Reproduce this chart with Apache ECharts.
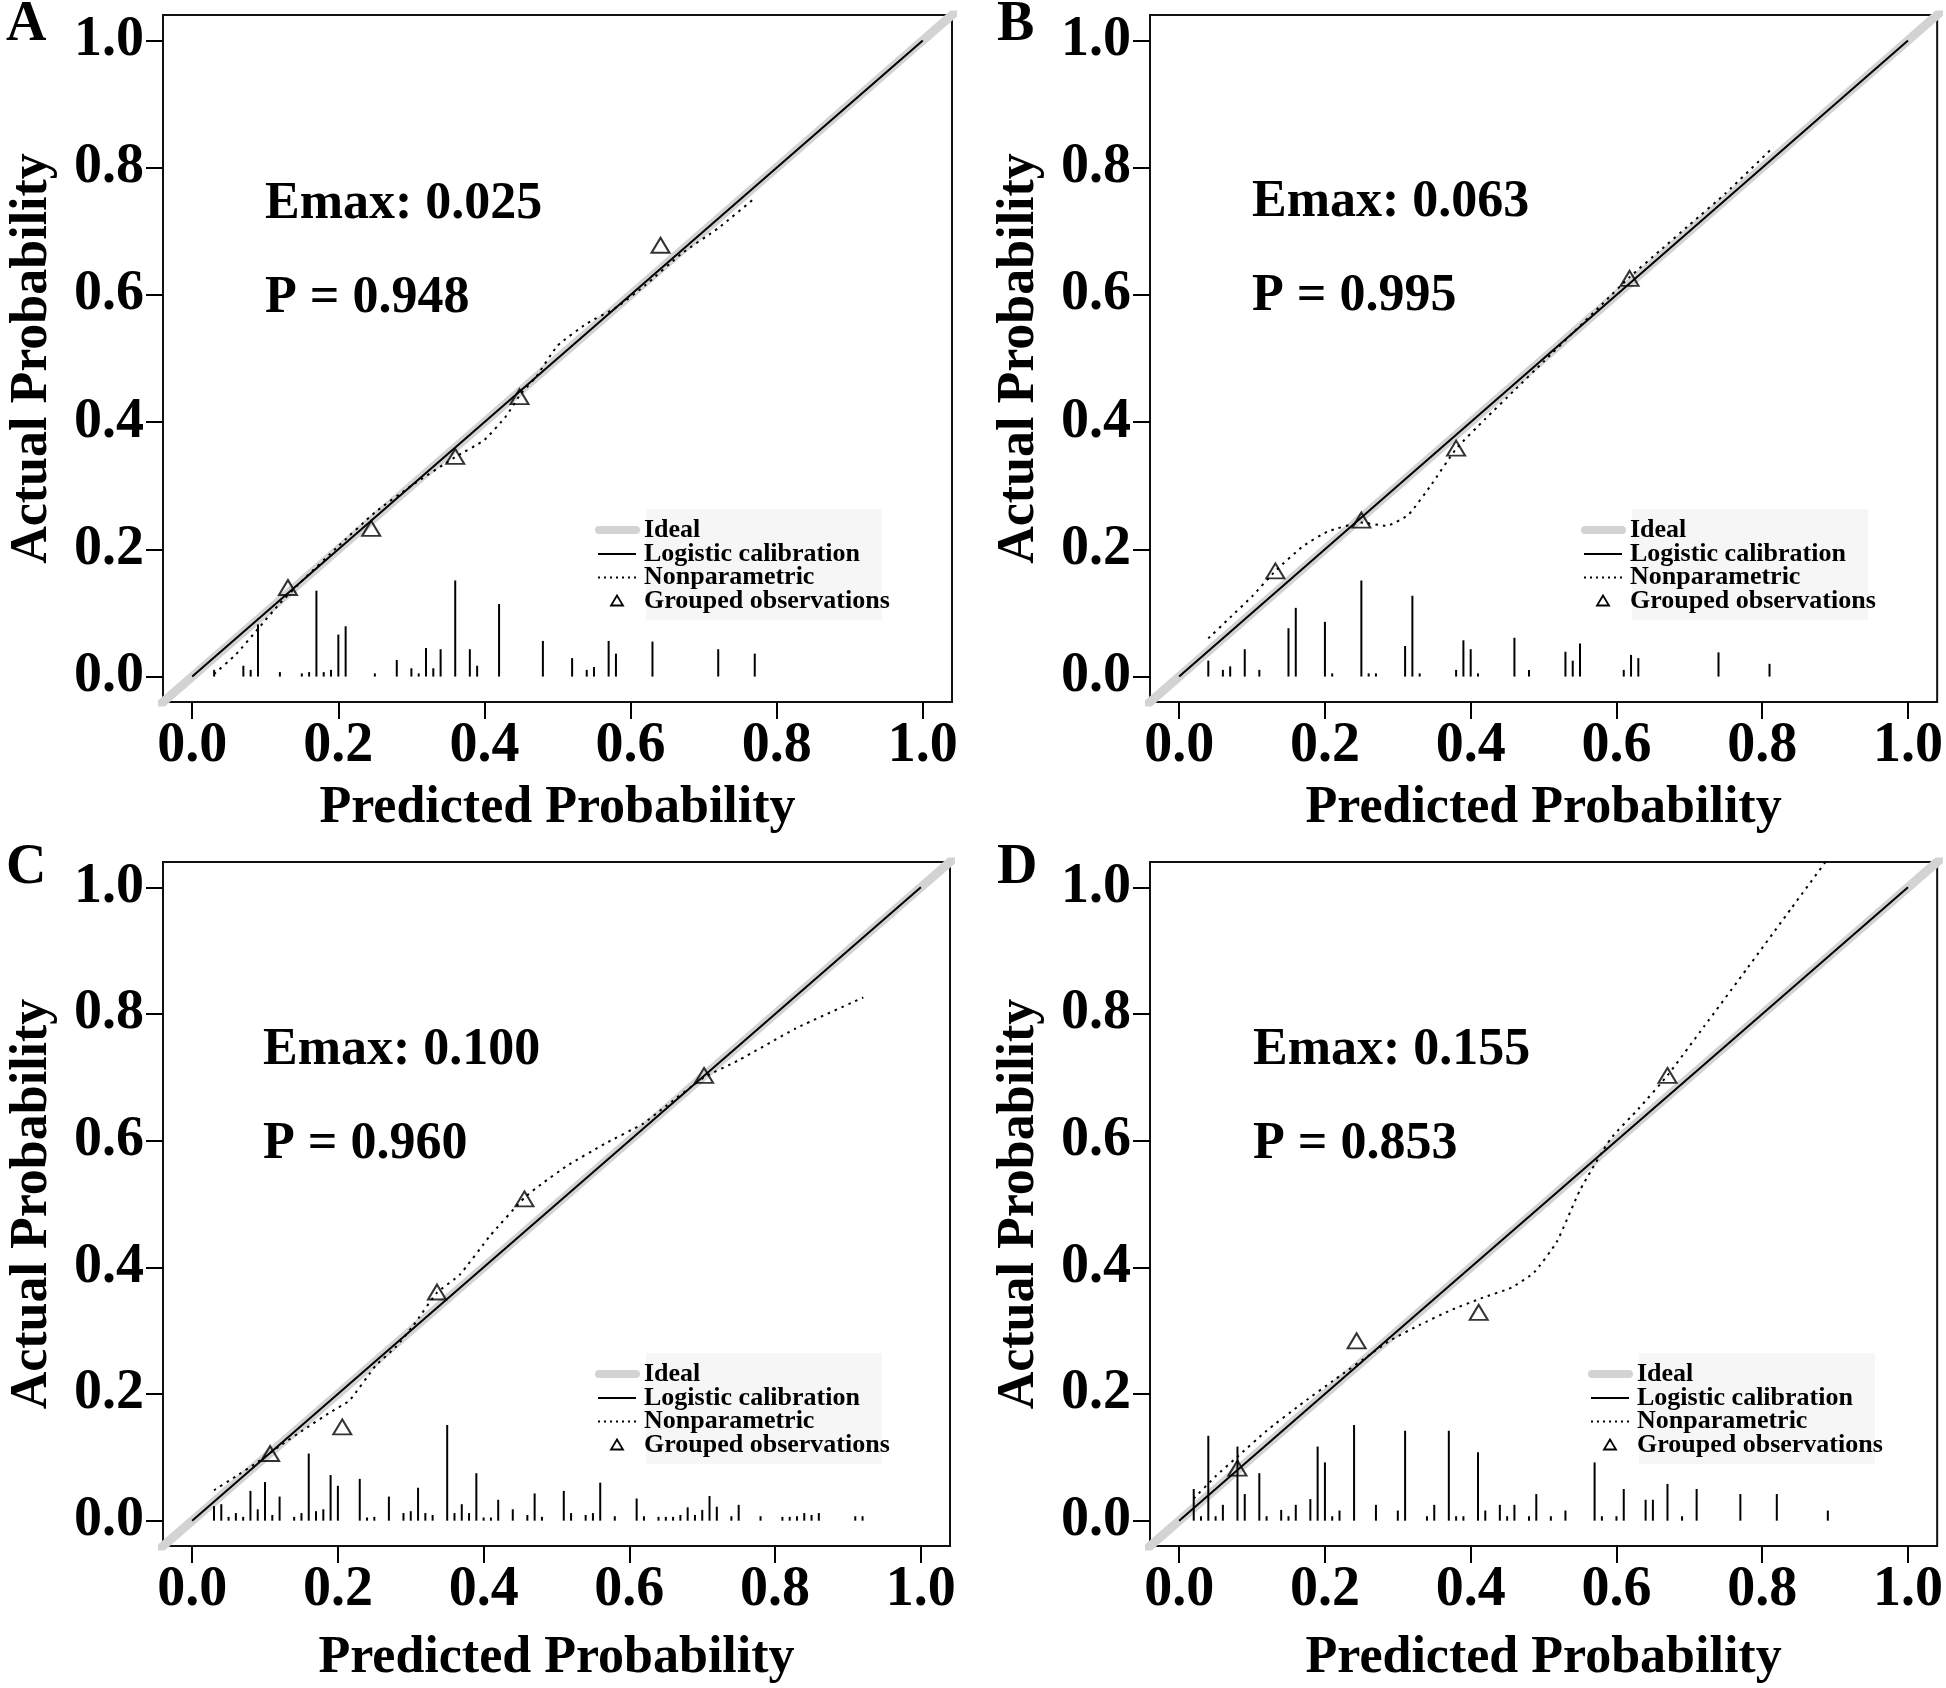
<!DOCTYPE html>
<html>
<head>
<meta charset="utf-8">
<script src="https://cdn.jsdelivr.net/npm/echarts@6/dist/echarts.min.js"></script>
<style>
html,body{margin:0;padding:0;background:#fff;}
#chart{width:1946px;height:1688px;}
</style>
</head>
<body>
<div id="chart"></div>
<script>
// ---------------- DATA ----------------
const axisTicks = [0, 0.2, 0.4, 0.6, 0.8, 1.0];
const panelLetters = ['A', 'B', 'C', 'D'];
const emaxTexts = ['Emax: 0.025', 'Emax: 0.063', 'Emax: 0.100', 'Emax: 0.155'];
const pTexts = ['P = 0.948', 'P = 0.995', 'P = 0.960', 'P = 0.853'];
const legendNames = ['Ideal', 'Logistic calibration', 'Nonparametric', 'Grouped observations'];
const xTitle = 'Predicted Probability';
const yTitle = 'Actual Probability';

const idealLine = [[-0.1, -0.1], [1.1, 1.1]];

// Panel A
const logisticA = [[0, 0], [0.25, 0.25], [0.5, 0.5], [0.75, 0.75], [1, 1]];
const nonparA = [[0.03,0.004],[0.06,0.035],[0.09,0.075],[0.12,0.115],[0.15,0.15],[0.2,0.205],[0.25,0.258],[0.3,0.3],[0.36,0.345],[0.4,0.372],[0.43,0.41],[0.45,0.445],[0.47,0.47],[0.5,0.52],[0.54,0.555],[0.58,0.58],[0.62,0.615],[0.67,0.665],[0.72,0.705],[0.77,0.752]];
const groupedA = [[0.131,0.140],[0.245,0.233],[0.360,0.346],[0.448,0.440],[0.641,0.678]];
const spikeXA = [0.03,0.07,0.08,0.09,0.12,0.15,0.16,0.17,0.18,0.19,0.20,0.21,0.25,0.28,0.30,0.31,0.32,0.33,0.34,0.36,0.38,0.39,0.42,0.48,0.52,0.54,0.55,0.57,0.58,0.63,0.72,0.77];
const spikeHA = [0.0105,0.017,0.0105,0.082,0.007,0.005,0.007,0.135,0.007,0.0105,0.066,0.079,0.005,0.026,0.013,0.005,0.045,0.013,0.043,0.151,0.043,0.017,0.114,0.056,0.029,0.0105,0.015,0.056,0.036,0.055,0.043,0.036];

// Panel B
const logisticB = [[0, 0], [0.25, 0.25], [0.5, 0.5], [0.75, 0.75], [1, 1]];
const nonparB = [[0.04,0.06],[0.07,0.093],[0.1,0.126],[0.132,0.166],[0.17,0.205],[0.204,0.228],[0.25,0.242],[0.285,0.237],[0.315,0.255],[0.345,0.3],[0.38,0.358],[0.42,0.405],[0.46,0.45],[0.5,0.495],[0.54,0.54],[0.58,0.585],[0.618,0.628],[0.66,0.67],[0.7,0.71],[0.75,0.76],[0.815,0.832]];
const groupedB = [[0.132,0.166],[0.250,0.246],[0.380,0.359],[0.618,0.626]];
const spikeXB = [0.04,0.06,0.07,0.09,0.11,0.15,0.16,0.20,0.21,0.25,0.26,0.27,0.31,0.32,0.33,0.38,0.39,0.40,0.41,0.46,0.48,0.53,0.54,0.55,0.61,0.62,0.63,0.74,0.81];
const spikeHB = [0.025,0.0105,0.016,0.043,0.0105,0.076,0.108,0.086,0.005,0.151,0.005,0.005,0.048,0.127,0.005,0.0105,0.057,0.043,0.005,0.061,0.0105,0.039,0.025,0.052,0.0105,0.034,0.029,0.038,0.02];

// Panel C
const logisticC = [[0, 0], [0.25, 0.25], [0.5, 0.5], [0.75, 0.75], [1, 1]];
const nonparC = [[0.03,0.048],[0.06,0.07],[0.088,0.091],[0.12,0.118],[0.155,0.145],[0.188,0.17],[0.216,0.19],[0.252,0.245],[0.28,0.275],[0.304,0.309],[0.336,0.36],[0.367,0.388],[0.409,0.45],[0.456,0.51],[0.48,0.532],[0.514,0.56],[0.566,0.595],[0.619,0.627],[0.645,0.65],[0.7025,0.7],[0.75,0.727],[0.828,0.777],[0.921,0.826]];
const groupedC = [[0.107,0.106],[0.206,0.148],[0.336,0.361],[0.456,0.508],[0.7025,0.703]];
const spikeXC = [0.03,0.04,0.05,0.06,0.07,0.08,0.09,0.10,0.11,0.12,0.14,0.15,0.16,0.17,0.18,0.19,0.20,0.23,0.24,0.25,0.27,0.29,0.30,0.31,0.32,0.33,0.35,0.36,0.37,0.38,0.39,0.40,0.41,0.42,0.44,0.46,0.47,0.48,0.51,0.52,0.54,0.55,0.56,0.58,0.61,0.62,0.64,0.65,0.66,0.67,0.68,0.69,0.70,0.71,0.72,0.74,0.75,0.78,0.81,0.82,0.83,0.84,0.85,0.86,0.91,0.92];
const spikeHC = [0.023,0.026,0.006,0.012,0.006,0.047,0.018,0.061,0.009,0.038,0.006,0.012,0.106,0.015,0.018,0.072,0.055,0.066,0.005,0.006,0.038,0.012,0.015,0.052,0.012,0.009,0.151,0.012,0.026,0.012,0.075,0.005,0.005,0.033,0.018,0.009,0.043,0.006,0.047,0.012,0.009,0.012,0.060,0.007,0.035,0.007,0.006,0.006,0.006,0.009,0.021,0.009,0.017,0.039,0.022,0.007,0.025,0.007,0.006,0.006,0.007,0.012,0.009,0.012,0.007,0.007];

// Panel D
const logisticD = [[0, 0], [0.25, 0.25], [0.5, 0.5], [0.75, 0.75], [1, 1]];
const nonparD = [[0.02,0.035],[0.05,0.07],[0.08,0.101],[0.12,0.142],[0.165,0.182],[0.215,0.224],[0.264,0.264],[0.29,0.285],[0.33,0.309],[0.372,0.332],[0.414,0.351],[0.456,0.368],[0.487,0.392],[0.518,0.44],[0.55,0.522],[0.592,0.603],[0.63,0.65],[0.67,0.703],[0.72,0.78],[0.78,0.873],[0.84,0.967],[0.89,1.045]];
const groupedD = [[0.080,0.083],[0.2435,0.284],[0.411,0.329],[0.670,0.703]];
const spikeXD = [0.02,0.03,0.04,0.05,0.06,0.08,0.09,0.11,0.12,0.14,0.15,0.16,0.18,0.19,0.20,0.21,0.22,0.24,0.27,0.30,0.31,0.34,0.35,0.37,0.38,0.39,0.41,0.42,0.44,0.45,0.46,0.48,0.49,0.51,0.53,0.57,0.58,0.60,0.61,0.64,0.65,0.67,0.69,0.71,0.77,0.82,0.89];
const spikeHD = [0.050,0.007,0.134,0.007,0.025,0.117,0.042,0.075,0.007,0.017,0.007,0.025,0.034,0.117,0.092,0.007,0.016,0.151,0.025,0.016,0.142,0.007,0.025,0.142,0.007,0.007,0.108,0.016,0.025,0.007,0.025,0.007,0.042,0.007,0.016,0.092,0.007,0.007,0.050,0.033,0.033,0.058,0.007,0.050,0.042,0.042,0.016];

// ---------------- LAYOUT / STYLE ----------------
const FONT = '"Liberation Serif","Times New Roman",Times,serif';
const panels = [
  { logistic: logisticA, nonpar: nonparA, grouped: groupedA, sx: spikeXA, sh: spikeHA },
  { logistic: logisticB, nonpar: nonparB, grouped: groupedB, sx: spikeXB, sh: spikeHB },
  { logistic: logisticC, nonpar: nonparC, grouped: groupedC, sx: spikeXC, sh: spikeHC },
  { logistic: logisticD, nonpar: nonparD, grouped: groupedD, sx: spikeXD, sh: spikeHD }
];
const gridBoxes = [
  { left: 163, top: 15, width: 789, height: 687 },
  { left: 1150, top: 15, width: 789, height: 687 },
  { left: 163, top: 862, width: 787, height: 684 },
  { left: 1150, top: 862, width: 790, height: 684 }
];
const xNameGaps = [81, 81, 87, 87];
const yNameGaps = [104, 104, 104, 104];
const textPos = [
  { lx: 6, ly: 26, ex: 265, ey: 205, py: 299 },
  { lx: 997, ly: 26, ex: 1252, ey: 203, py: 297 },
  { lx: 6, ly: 869, ex: 263, ey: 1051, py: 1145 },
  { lx: 997, ly: 869, ex: 1253, ey: 1051, py: 1145 }
];
const legendOffsets = [[0, 0], [986, 0], [0, 844], [993, 844]];

const chart = echarts.init(document.getElementById('chart'), null, { renderer: 'canvas' });

const grid = [], xAxis = [], yAxis = [], series = [], graphic = [];

const fmt = v => Number(v).toFixed(1);

panels.forEach((p, i) => {
  const g = gridBoxes[i];
  grid.push(Object.assign({ show: true, borderColor: '#111', borderWidth: 2, backgroundColor: 'transparent', containLabel: false }, g));

  const common = {
    type: 'value', gridIndex: i, min: -0.04, max: 1.04,
    nameLocation: 'middle',
    nameTextStyle: { fontFamily: FONT, fontWeight: 'bold', fontSize: 52, color: '#000' },
    axisLine: { show: false, onZero: false },
    axisTick: { show: true, inside: false, length: 17, customValues: axisTicks, lineStyle: { color: '#000', width: 2 } },
    axisLabel: { customValues: axisTicks, formatter: fmt, fontFamily: FONT, fontWeight: 'bold', fontSize: 56, color: '#000' },
    splitLine: { show: false }
  };
  xAxis.push(Object.assign({}, common, {
    name: xTitle, nameGap: xNameGaps[i],
    axisLabel: Object.assign({}, common.axisLabel, { margin: 17 })
  }));
  yAxis.push(Object.assign({}, common, {
    name: yTitle, nameGap: yNameGaps[i], nameRotate: 90,
    axisLabel: Object.assign({}, common.axisLabel, { margin: 19 })
  }));

  series.push({
    name: legendNames[0], type: 'line', xAxisIndex: i, yAxisIndex: i,
    data: idealLine, showSymbol: false, symbol: 'none', clip: true, silent: true, z: 1,
    lineStyle: { color: '#d3d3d3', width: 9 }
  });
  series.push({
    name: 'spikes', type: 'custom', xAxisIndex: i, yAxisIndex: i, silent: true, z: 2,
    data: p.sx.map((x, k) => [x, p.sh[k]]),
    renderItem: (params, api) => {
      const a = api.coord([api.value(0), 0]);
      const b = api.coord([api.value(0), api.value(1)]);
      return { type: 'line', shape: { x1: a[0], y1: a[1], x2: b[0], y2: b[1] }, style: { stroke: '#000', lineWidth: 2 } };
    }
  });
  series.push({
    name: legendNames[1], type: 'line', xAxisIndex: i, yAxisIndex: i,
    data: p.logistic, symbol: 'none', clip: true, silent: true, z: 3,
    lineStyle: { color: '#000', width: 2 }
  });
  series.push({
    name: legendNames[2], type: 'line', xAxisIndex: i, yAxisIndex: i,
    data: p.nonpar, symbol: 'none', clip: true, silent: true, z: 4, smooth: 0.15,
    lineStyle: { color: '#000', width: 2, type: [2.5, 5] }
  });
  series.push({
    name: legendNames[3], type: 'scatter', xAxisIndex: i, yAxisIndex: i,
    data: p.grouped, symbol: 'triangle', symbolSize: [18, 15], silent: true, z: 5,
    itemStyle: { color: 'rgba(0,0,0,0)', borderColor: '#000', borderWidth: 2 }
  });

  // texts
  const t = textPos[i];
  graphic.push({ type: 'text', silent: true, z: 10, style: { text: panelLetters[i], x: t.lx, y: t.ly, fontFamily: FONT, fontWeight: 'bold', fontSize: 56, fill: '#000', verticalAlign: 'middle', align: 'left' } });
  graphic.push({ type: 'text', silent: true, z: 10, style: { text: emaxTexts[i], x: t.ex, y: t.ey, fontFamily: FONT, fontWeight: 'bold', fontSize: 52, fill: '#000', verticalAlign: 'middle', align: 'left' } });
  graphic.push({ type: 'text', silent: true, z: 10, style: { text: pTexts[i], x: t.ex, y: t.py, fontFamily: FONT, fontWeight: 'bold', fontSize: 52, fill: '#000', verticalAlign: 'middle', align: 'left' } });

  // legend
  const dx = legendOffsets[i][0], dy = legendOffsets[i][1];
  const rows = [530, 554, 577.5, 601];
  const children = [];
  children.push({ type: 'rect', z: 1, shape: { x: 646 + dx, y: 509 + dy, width: 236, height: 111 }, style: { fill: '#f6f6f6' } });
  children.push({ type: 'line', z: 2, shape: { x1: 599 + dx, y1: rows[0] + dy, x2: 636 + dx, y2: rows[0] + dy }, style: { stroke: '#d3d3d3', lineWidth: 8, lineCap: 'round' } });
  children.push({ type: 'line', z: 2, shape: { x1: 598 + dx, y1: rows[1] + dy, x2: 636 + dx, y2: rows[1] + dy }, style: { stroke: '#000', lineWidth: 2 } });
  children.push({ type: 'line', z: 2, shape: { x1: 598 + dx, y1: rows[2] + dy, x2: 636 + dx, y2: rows[2] + dy }, style: { stroke: '#000', lineWidth: 2, lineDash: [2, 4] } });
  children.push({ type: 'polygon', z: 2, shape: { points: [[617 + dx, rows[3] - 5.5 + dy], [611 + dx, rows[3] + 4.5 + dy], [623 + dx, rows[3] + 4.5 + dy]] }, style: { fill: 'none', stroke: '#000', lineWidth: 1.8 } });
  legendNames.forEach((n, k) => {
    children.push({ type: 'text', z: 3, style: { text: n, x: 644 + dx, y: rows[k] + dy, fontFamily: FONT, fontWeight: 'bold', fontSize: 26, fill: '#000', verticalAlign: 'middle', align: 'left' } });
  });
  graphic.push({ type: 'group', silent: true, z: 9, children });
});

chart.setOption({
  animation: false,
  backgroundColor: '#fff',
  grid, xAxis, yAxis, series, graphic
});
</script>
</body>
</html>
